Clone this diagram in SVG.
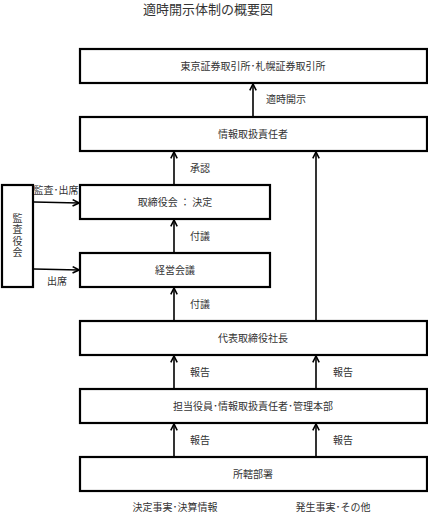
<svg xmlns="http://www.w3.org/2000/svg" width="428" height="514" viewBox="0 0 428 514">
<defs>
<marker id="ah" viewBox="0 0 10 10" refX="9" refY="5" markerWidth="8" markerHeight="8" markerUnits="userSpaceOnUse" orient="auto">
<path d="M1,1 L9,5 L1,9" fill="none" stroke="#000" stroke-width="2"/>
</marker>
<style>
.box{fill:#fff;stroke:#000;stroke-width:2.2}
.t{font-family:"Noto Sans CJK JP","Noto Sans CJK SC",sans-serif;font-size:10px;fill:#333;text-anchor:middle}
.title{font-size:13px}
.v{writing-mode:vertical-rl;letter-spacing:1.5px}
.c{fill:none;stroke:#000;stroke-width:1.6;marker-end:url(#ah)}
</style>
</defs>
<rect width="428" height="514" fill="#fff"/>
<text class="t title" x="208" y="14">適時開示体制の概要図</text>
<g id="connectors">
<line class="c" x1="253" y1="116" x2="253" y2="84"/>
<line class="c" x1="174" y1="185" x2="174" y2="152"/>
<line class="c" x1="174" y1="253" x2="174" y2="220"/>
<line class="c" x1="174" y1="321" x2="174" y2="288"/>
<line class="c" x1="316" y1="321" x2="316" y2="152"/>
<line class="c" x1="174" y1="389" x2="174" y2="356"/>
<line class="c" x1="316" y1="389" x2="316" y2="356"/>
<line class="c" x1="174" y1="457" x2="174" y2="424"/>
<line class="c" x1="316" y1="457" x2="316" y2="424"/>
<line class="c" x1="34" y1="202" x2="79" y2="203"/>
<line class="c" x1="34" y1="269" x2="79" y2="270"/>
<text class="t" x="286" y="103">適時開示</text>
<text class="t" x="200" y="172">承認</text>
<text class="t" x="200" y="240">付議</text>
<text class="t" x="200" y="308">付議</text>
<text class="t" x="200" y="376">報告</text>
<text class="t" x="343" y="376">報告</text>
<text class="t" x="200" y="444">報告</text>
<text class="t" x="343" y="444">報告</text>
<text class="t" x="56" y="194">監査･出席</text>
<text class="t" x="57" y="285">出席</text>
</g>
<g id="tse"><rect class="box" x="80" y="49" width="347" height="34"/><text class="t" x="253" y="70">東京証券取引所･札幌証券取引所</text></g>
<g id="joho"><rect class="box" x="80" y="117" width="347" height="34"/><text class="t" x="253" y="138">情報取扱責任者</text></g>
<g id="torishimariyakukai"><rect class="box" x="80" y="185" width="190" height="34"/><text class="t" x="175" y="206">取締役会 ： 決定</text></g>
<g id="keiei"><rect class="box" x="80" y="253" width="190" height="34"/><text class="t" x="175" y="274">経営会議</text></g>
<g id="kansayakukai"><rect class="box" x="2" y="185" width="31" height="102"/>
<text class="t v" x="17.5" y="236">監査役会</text></g>
<g id="shacho"><rect class="box" x="80" y="321" width="347" height="34"/><text class="t" x="253" y="342">代表取締役社長</text></g>
<g id="tanto"><rect class="box" x="80" y="389" width="347" height="34"/><text class="t" x="253" y="410">担当役員･情報取扱責任者･管理本部</text></g>
<g id="shokatsu"><rect class="box" x="80" y="457" width="347" height="34"/><text class="t" x="253" y="478">所轄部署</text></g>
<text class="t" x="175" y="511">決定事実･決算情報</text>
<text class="t" x="333" y="511">発生事実･その他</text>
</svg>
